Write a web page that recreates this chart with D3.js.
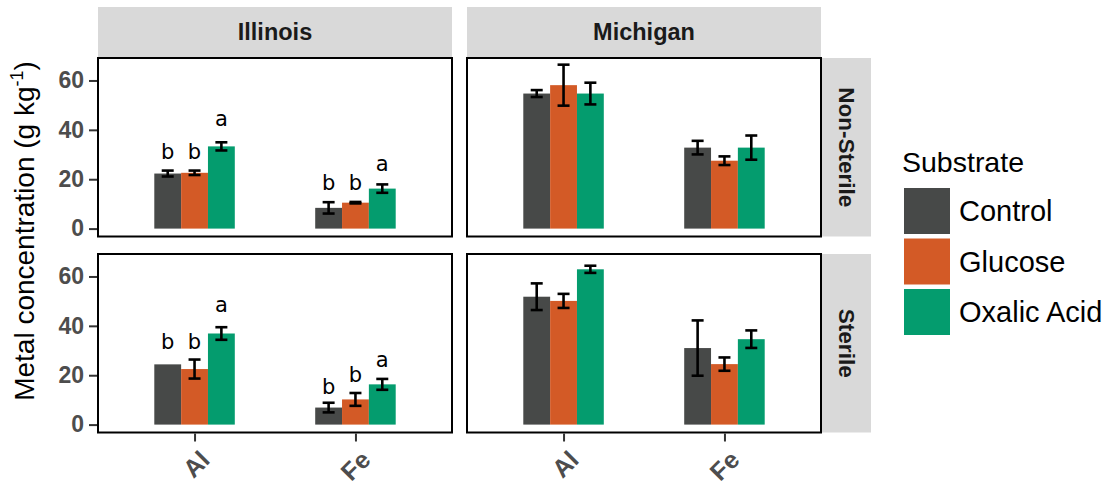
<!DOCTYPE html>
<html>
<head>
<meta charset="utf-8">
<script src="https://cdn.jsdelivr.net/npm/d3@7"></script>
<style>
  html, body { margin: 0; padding: 0; background: #fff; }
  svg { display: block; font-family: "Liberation Sans", Arial, sans-serif; }
</style>
</head>
<body>
<svg id="chart" width="1114" height="488"></svg>
<script>
// ---------- data ----------
const states = ["Illinois", "Michigan"];
const treatments = ["Non-Sterile", "Sterile"];
const metals = ["Al", "Fe"];
const substrates = ["Control", "Glucose", "Oxalic Acid"];
const yTicks = [0, 20, 40, 60];
const colors = ["#474948", "#D35A26", "#049C6E"];

// order within each panel: Al-Control, Al-Glucose, Al-Oxalic, Fe-Control, Fe-Glucose, Fe-Oxalic
const illinoisNonSterileMean = [22.3, 22.6, 33.3, 8.4, 10.5, 16.2];
const illinoisNonSterileSE   = [1.2, 0.9, 1.65, 2.3, 0.3, 1.7];
const illinoisNonSterileLetters = ["b", "b", "a", "b", "b", "a"];
const illinoisNonSterileLetterY = [28.3, 28.2, 41.7, 15.8, 15.5, 23.2];

const michiganNonSterileMean = [54.7, 58.1, 54.7, 32.8, 27.5, 32.8];
const michiganNonSterileSE   = [1.4, 8.3, 4.4, 2.75, 1.75, 4.9];

const illinoisSterileMean = [24.4, 22.5, 36.9, 6.9, 10.2, 16.3];
const illinoisSterileSE   = [0, 3.85, 2.55, 1.95, 2.6, 2.2];
const illinoisSterileLetters = ["b", "b", "a", "b", "b", "a"];
const illinoisSterileLetterY = [30.5, 30.5, 45.6, 12.3, 17.3, 23.3];

const michiganSterileMean = [51.8, 50.1, 62.9, 31.0, 24.5, 34.6];
const michiganSterileSE   = [5.4, 2.85, 1.45, 11.2, 2.7, 3.55];

function rowsFor(mean, se, letters, letterY) {
  const out = [];
  metals.forEach((m, i) => substrates.forEach((s, j) => {
    const k = i * substrates.length + j;
    out.push({ metal: m, substrate: s, si: j, mean: mean[k], se: se[k],
               letter: letters ? letters[k] : null, letterY: letterY ? letterY[k] : null });
  }));
  return out;
}
const panels = [
  { state: "Illinois", treat: "Non-Sterile", rows: rowsFor(illinoisNonSterileMean, illinoisNonSterileSE, illinoisNonSterileLetters, illinoisNonSterileLetterY) },
  { state: "Michigan", treat: "Non-Sterile", rows: rowsFor(michiganNonSterileMean, michiganNonSterileSE) },
  { state: "Illinois", treat: "Sterile", rows: rowsFor(illinoisSterileMean, illinoisSterileSE, illinoisSterileLetters, illinoisSterileLetterY) },
  { state: "Michigan", treat: "Sterile", rows: rowsFor(michiganSterileMean, michiganSterileSE) }
];

// ---------- layout ----------
const svg = d3.select("#chart");
const colX = { "Illinois": 98, "Michigan": 467 };
const rowY = { "Non-Sterile": 58, "Sterile": 254 };
const panelW = 354, panelH = 178.5;
const stripTopH = 50, stripRightW = 50;

const x = d3.scalePoint().domain(metals).range([0, panelW]).padding(0.6);
const xInner = d3.scaleBand().domain(substrates).range([-40.25, 40.25]).padding(0);
const y = d3.scaleLinear().domain([-3.2, 69.1]).range([panelH, 0]);
const color = d3.scaleOrdinal().domain(substrates).range(colors);

// top strips
states.forEach(s => {
  svg.append("rect").attr("x", colX[s]).attr("y", 7).attr("width", panelW).attr("height", stripTopH)
    .attr("fill", "#d9d9d9");
  svg.append("text").attr("x", colX[s] + panelW / 2).attr("y", 32)
    .attr("text-anchor", "middle").attr("dominant-baseline", "central")
    .attr("font-size", 23.5).attr("font-weight", "bold").attr("fill", "#1a1a1a").text(s);
});
// right strips
treatments.forEach(t => {
  const x0 = colX["Michigan"] + panelW;
  svg.append("rect").attr("x", x0).attr("y", rowY[t]).attr("width", stripRightW).attr("height", panelH)
    .attr("fill", "#d9d9d9");
  svg.append("text")
    .attr("transform", `translate(${x0 + stripRightW / 2},${rowY[t] + panelH / 2}) rotate(90)`)
    .attr("text-anchor", "middle").attr("dominant-baseline", "central")
    .attr("font-size", 22.5).attr("font-weight", "bold").attr("fill", "#1a1a1a").text(t);
});

panels.forEach(p => {
  const g = svg.append("g").attr("transform", `translate(${colX[p.state]},${rowY[p.treat]})`);
  g.append("rect").attr("width", panelW).attr("height", panelH).attr("fill", "#fff");

  g.selectAll("rect.bar").data(p.rows).enter().append("rect").attr("class", "bar")
    .attr("x", d => x(d.metal) + xInner(d.substrate))
    .attr("width", xInner.bandwidth())
    .attr("y", d => y(d.mean))
    .attr("height", d => y(0) - y(d.mean))
    .attr("fill", d => color(d.substrate));

  const eb = g.selectAll("g.eb").data(p.rows.filter(d => d.se > 0)).enter().append("g")
    .attr("stroke", "#000").attr("stroke-width", 2.6).attr("fill", "none");
  const cx = d => x(d.metal) + xInner(d.substrate) + xInner.bandwidth() / 2;
  eb.append("line").attr("x1", cx).attr("x2", cx)
    .attr("y1", d => y(d.mean + d.se)).attr("y2", d => y(d.mean - d.se));
  eb.append("line").attr("x1", d => cx(d) - 6).attr("x2", d => cx(d) + 6)
    .attr("y1", d => y(d.mean + d.se)).attr("y2", d => y(d.mean + d.se));
  eb.append("line").attr("x1", d => cx(d) - 6).attr("x2", d => cx(d) + 6)
    .attr("y1", d => y(d.mean - d.se)).attr("y2", d => y(d.mean - d.se));

  g.selectAll("text.letter").data(p.rows.filter(d => d.letter)).enter().append("text")
    .attr("x", cx).attr("y", d => y(d.letterY))
    .attr("text-anchor", "middle").attr("font-size", 21).attr("fill", "#000")
    .attr("font-family", "DejaVu Sans, sans-serif")
    .text(d => d.letter);

  g.append("rect").attr("width", panelW).attr("height", panelH)
    .attr("fill", "none").attr("stroke", "#000").attr("stroke-width", 2);

  // y axis on left column
  if (p.state === "Illinois") {
    const ya = g.append("g").call(d3.axisLeft(y).tickValues(yTicks).tickSize(8).tickPadding(5));
    ya.select(".domain").remove();
    ya.selectAll("line").attr("stroke", "#333").attr("stroke-width", 2).attr("transform", "translate(-1,0)");
    ya.selectAll("text").attr("font-size", 23).attr("font-weight", "bold").attr("fill", "#4d4d4d")
      .attr("font-family", "Liberation Sans, Arial, sans-serif").attr("dx", "-1");
  }
  // x axis on bottom row
  if (p.treat === "Sterile") {
    const xa = g.append("g").attr("transform", `translate(0,${panelH})`)
      .call(d3.axisBottom(x).tickSize(8).tickPadding(5));
    xa.select(".domain").remove();
    xa.selectAll("line").attr("stroke", "#333").attr("stroke-width", 2).attr("transform", "translate(0,1)");
    xa.selectAll("text")
      .attr("font-size", 25).attr("font-weight", "bold").attr("fill", "#4d4d4d")
      .attr("font-family", "Liberation Sans, Arial, sans-serif")
      .attr("text-anchor", "end").attr("dominant-baseline", "hanging")
      .attr("dy", null).attr("y", 0)
      .attr("transform", "translate(3,16) rotate(-45)");
  }
});

// y axis title
svg.append("text")
  .attr("transform", "translate(34,231) rotate(-90)")
  .attr("text-anchor", "middle").attr("font-size", 28).attr("fill", "#000")
  .call(t => {
    t.append("tspan").text("Metal concentration (g kg");
    t.append("tspan").attr("font-size", 18).attr("dy", -11).text("-1");
    t.append("tspan").attr("dy", 11).text(")");
  });

// legend
const lg = svg.append("g").attr("transform", "translate(904,0)");
lg.append("text").attr("x", -2).attr("y", 172).attr("font-size", 28.5).attr("fill", "#000").text("Substrate");
substrates.forEach((s, i) => {
  const yy = 188 + i * 50.5;
  lg.append("rect").attr("x", 0).attr("y", yy).attr("width", 46).attr("height", 46).attr("fill", color(s));
  lg.append("text").attr("x", 55).attr("y", yy + 23).attr("dominant-baseline", "central")
    .attr("font-size", 29).attr("fill", "#000").text(s);
});
</script>
</body>
</html>
